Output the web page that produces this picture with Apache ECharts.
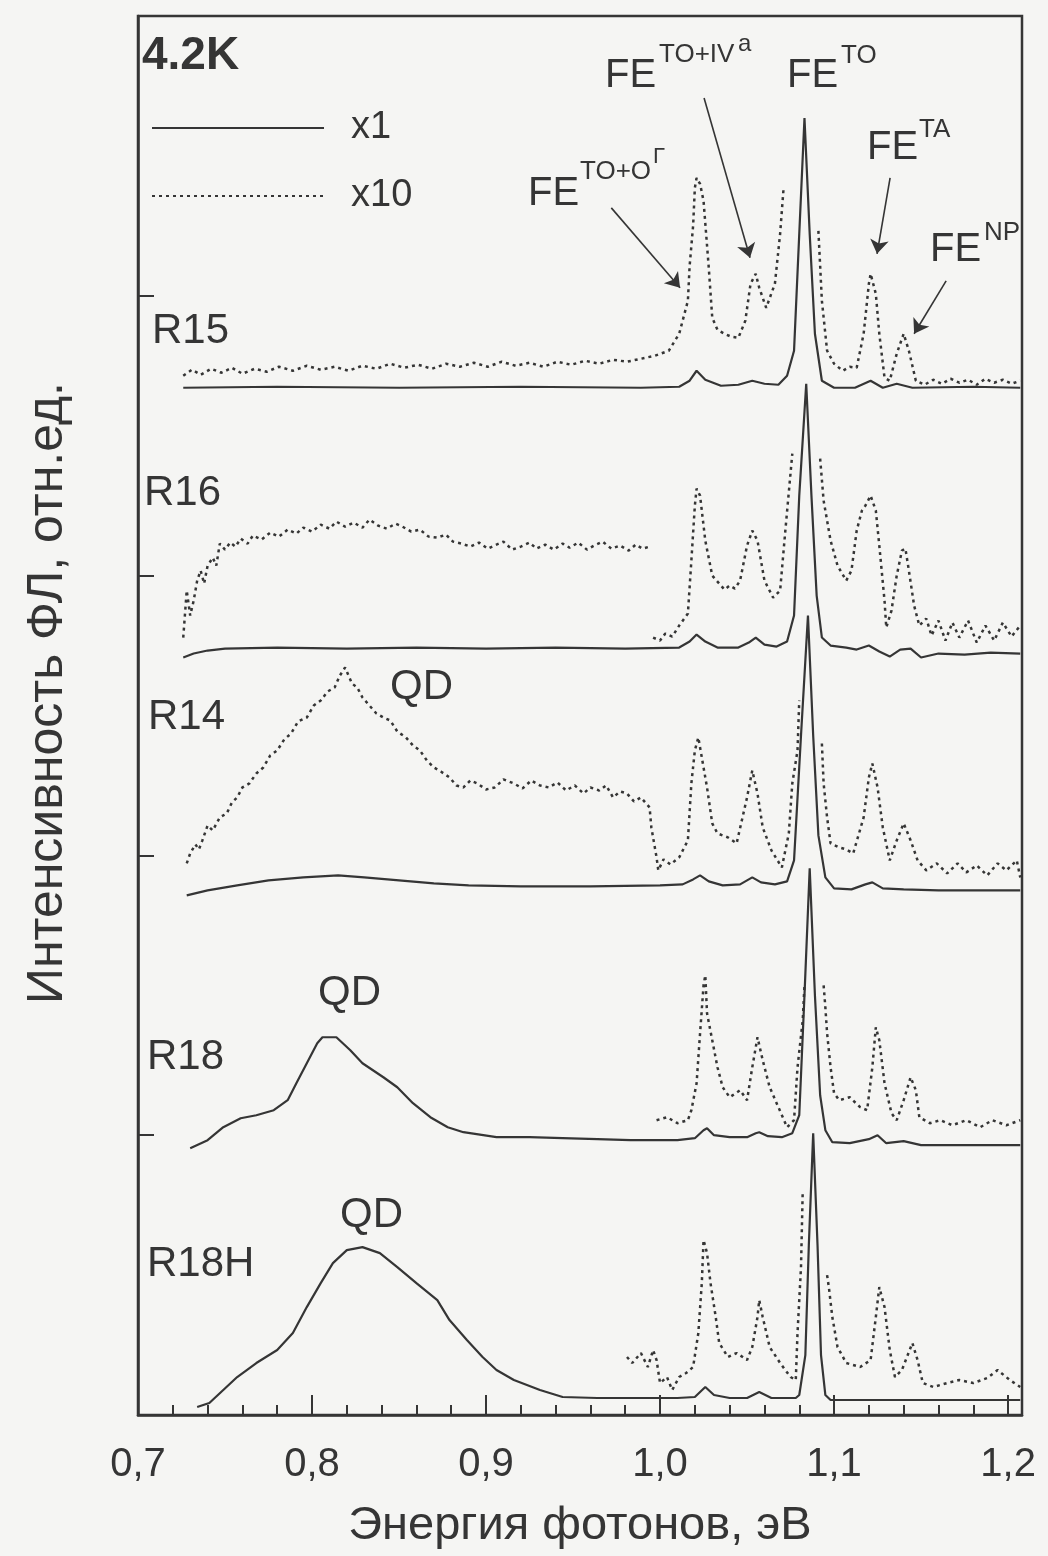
<!DOCTYPE html>
<html>
<head>
<meta charset="utf-8">
<script src="https://cdn.jsdelivr.net/npm/echarts/dist/echarts.min.js"></script>
<style>
  html, body { margin: 0; padding: 0; background: #f5f5f3; }
  #chart { width: 1048px; height: 1556px; }
</style>
</head>
<body>
<div id="chart"></div>
<script>
// PL spectra at 4.2K, stacked; x = photon energy (eV), y = intensity incl. vertical offset (arb. units)

const r15Solid = [[0.726,1028],[0.780,1029],[0.850,1028],[0.920,1029],[0.989,1028],[1.011,1029],[1.017,1035],[1.021,1045],[1.026,1036],[1.035,1030],[1.045,1031],[1.053,1035],[1.060,1032],[1.068,1031],[1.073,1040],[1.077,1065],[1.080,1182],[1.083,1298],[1.086,1182],[1.089,1082],[1.093,1035],[1.100,1028],[1.112,1028],[1.121,1035],[1.128,1028],[1.136,1032],[1.145,1028],[1.180,1029],[1.207,1028]];
const r15DashL = [[0.726,1040],[0.731,1046],[0.736,1041],[0.742,1047],[0.748,1043],[0.754,1048],[0.760,1042],[0.767,1047],[0.774,1044],[0.781,1049],[0.789,1045],[0.797,1050],[0.805,1046],[0.813,1049],[0.821,1045],[0.829,1050],[0.837,1047],[0.845,1052],[0.853,1048],[0.861,1051],[0.869,1047],[0.877,1052],[0.885,1049],[0.893,1053],[0.901,1049],[0.909,1054],[0.917,1050],[0.925,1053],[0.933,1049],[0.941,1054],[0.949,1051],[0.957,1055],[0.965,1052],[0.973,1056],[0.981,1054],[0.989,1057],[0.997,1060],[1.005,1065],[1.011,1082],[1.016,1115],[1.017,1150],[1.019,1190],[1.020,1228],[1.021,1238],[1.023,1232],[1.025,1215],[1.028,1148],[1.030,1098],[1.033,1086],[1.037,1082],[1.041,1079],[1.045,1078],[1.049,1095],[1.052,1132],[1.055,1142],[1.057,1128],[1.061,1108],[1.066,1132],[1.069,1182],[1.071,1228]];
const r15DashR = [[1.091,1185],[1.093,1115],[1.096,1065],[1.100,1052],[1.105,1045],[1.109,1049],[1.113,1048],[1.117,1082],[1.120,1132],[1.121,1142],[1.124,1122],[1.126,1082],[1.129,1038],[1.132,1035],[1.136,1062],[1.140,1082],[1.143,1065],[1.147,1035],[1.152,1031],[1.157,1036],[1.162,1032],[1.167,1037],[1.172,1033],[1.177,1036],[1.182,1031],[1.187,1037],[1.192,1033],[1.197,1036],[1.202,1032],[1.207,1035]];

const r16Solid = [[0.726,758],[0.732,762],[0.740,765],[0.750,767],[0.780,768],[0.820,767],[0.860,768],[0.900,767],[0.940,768],[0.980,767],[1.011,768],[1.017,774],[1.021,781],[1.026,774],[1.033,768],[1.045,768],[1.051,773],[1.055,778],[1.060,771],[1.067,769],[1.073,774],[1.077,800],[1.080,920],[1.084,1032],[1.087,920],[1.090,820],[1.093,778],[1.098,770],[1.107,768],[1.113,766],[1.120,770],[1.126,764],[1.132,759],[1.138,766],[1.144,767],[1.150,758],[1.160,762],[1.175,761],[1.190,763],[1.207,762]];
const r16DashQ = [[0.726,778],[0.728,825],[0.730,800],[0.732,815],[0.734,835],[0.736,845],[0.738,832],[0.740,850],[0.743,858],[0.745,850],[0.747,872],[0.750,866],[0.753,873],[0.756,869],[0.759,877],[0.763,872],[0.766,880],[0.771,876],[0.776,883],[0.781,879],[0.786,886],[0.791,882],[0.795,888],[0.800,884],[0.805,891],[0.810,887],[0.814,894],[0.819,889],[0.824,893],[0.829,888],[0.833,896],[0.838,890],[0.843,887],[0.848,892],[0.852,889],[0.857,884],[0.862,886],[0.867,879],[0.872,878],[0.877,881],[0.881,874],[0.886,872],[0.891,869],[0.896,873],[0.901,867],[0.906,871],[0.910,874],[0.915,866],[0.920,869],[0.925,873],[0.929,867],[0.934,871],[0.939,866],[0.944,872],[0.948,868],[0.953,873],[0.958,866],[0.962,870],[0.967,874],[0.972,867],[0.977,870],[0.982,865],[0.986,871],[0.990,867],[0.994,869]];
const r16DashL = [[0.996,778],[1.000,775],[1.003,782],[1.007,779],[1.011,790],[1.016,802],[1.018,855],[1.020,910],[1.021,927],[1.023,920],[1.026,875],[1.030,840],[1.034,832],[1.037,826],[1.040,830],[1.043,827],[1.046,835],[1.050,870],[1.053,885],[1.056,875],[1.060,835],[1.065,818],[1.069,825],[1.072,885],[1.076,962]];
const r16DashR = [[1.092,957],[1.094,915],[1.098,875],[1.102,850],[1.107,835],[1.110,845],[1.113,885],[1.116,905],[1.118,910],[1.121,920],[1.124,905],[1.126,870],[1.129,815],[1.130,788],[1.133,805],[1.136,840],[1.139,865],[1.141,867],[1.143,845],[1.146,810],[1.149,790],[1.153,797],[1.156,780],[1.160,795],[1.164,775],[1.168,793],[1.172,778],[1.177,795],[1.182,773],[1.187,790],[1.192,775],[1.197,793],[1.202,779],[1.207,790]];

const r14Solid = [[0.728,520],[0.740,525],[0.757,530],[0.775,535],[0.795,538],[0.815,540],[0.830,538],[0.850,535],[0.870,532],[0.890,530],[0.920,529],[0.960,529],[1.000,530],[1.013,531],[1.019,536],[1.023,540],[1.028,534],[1.036,530],[1.046,531],[1.053,538],[1.058,533],[1.066,531],[1.073,534],[1.077,555],[1.081,680],[1.085,800],[1.088,680],[1.091,580],[1.095,538],[1.100,527],[1.110,526],[1.118,531],[1.122,533],[1.128,527],[1.140,526],[1.160,525],[1.190,525],[1.207,525]];
const r14DashL = [[0.728,552],[0.730,562],[0.733,571],[0.735,566],[0.737,575],[0.740,590],[0.743,585],[0.747,598],[0.751,602],[0.754,613],[0.757,618],[0.760,628],[0.764,632],[0.768,642],[0.772,648],[0.776,660],[0.780,665],[0.784,676],[0.788,682],[0.792,694],[0.797,698],[0.801,710],[0.805,715],[0.809,724],[0.813,728],[0.816,740],[0.819,748],[0.823,732],[0.826,728],[0.829,718],[0.833,710],[0.837,702],[0.841,698],[0.845,695],[0.849,684],[0.854,678],[0.858,670],[0.862,665],[0.866,655],[0.870,648],[0.874,644],[0.879,638],[0.883,630],[0.887,628],[0.891,635],[0.895,632],[0.900,626],[0.905,628],[0.910,636],[0.916,632],[0.921,627],[0.926,635],[0.931,630],[0.936,628],[0.941,633],[0.946,625],[0.951,630],[0.956,622],[0.960,628],[0.965,625],[0.969,630],[0.973,618],[0.977,624],[0.981,622],[0.985,614],[0.989,618],[0.992,612],[0.994,608],[0.995,588],[0.998,558],[0.999,545],[1.002,556],[1.006,551],[1.011,558],[1.016,575],[1.018,632],[1.020,665],[1.022,678],[1.024,658],[1.027,628],[1.030,592],[1.033,582],[1.039,578],[1.044,572],[1.050,618],[1.053,645],[1.056,622],[1.059,588],[1.064,565],[1.070,548],[1.074,582],[1.076,632],[1.079,665],[1.080,715]];
const r14DashR = [[1.093,672],[1.094,632],[1.096,598],[1.098,572],[1.103,568],[1.107,566],[1.111,562],[1.117,598],[1.120,638],[1.122,652],[1.125,628],[1.128,588],[1.132,555],[1.136,575],[1.140,592],[1.144,575],[1.148,555],[1.153,545],[1.159,552],[1.165,542],[1.171,552],[1.176,543],[1.182,550],[1.188,540],[1.194,552],[1.199,545],[1.205,555],[1.207,538]];

const r18Solid = [[0.730,267],[0.740,275],[0.749,288],[0.759,297],[0.768,300],[0.778,305],[0.786,315],[0.791,332],[0.797,352],[0.803,372],[0.806,378],[0.814,378],[0.822,365],[0.829,352],[0.841,338],[0.849,328],[0.858,312],[0.868,298],[0.878,288],[0.887,283],[0.906,278],[0.925,278],[0.944,277],[0.964,276],[0.983,275],[1.010,275],[1.020,277],[1.025,285],[1.027,287],[1.031,280],[1.040,278],[1.050,278],[1.055,282],[1.057,283],[1.062,279],[1.070,278],[1.076,282],[1.080,300],[1.083,420],[1.086,547],[1.089,420],[1.092,320],[1.095,285],[1.099,273],[1.109,272],[1.120,276],[1.125,280],[1.130,272],[1.140,274],[1.150,270],[1.170,270],[1.207,270]];
const r18DashL = [[0.998,295],[1.004,298],[1.010,292],[1.016,295],[1.018,305],[1.021,332],[1.023,382],[1.025,430],[1.026,440],[1.027,402],[1.030,375],[1.033,348],[1.036,328],[1.040,318],[1.046,325],[1.050,315],[1.053,348],[1.056,378],[1.059,355],[1.063,328],[1.068,308],[1.073,288],[1.077,295],[1.079,348],[1.082,395],[1.083,430]];
const r18DashR = [[1.094,430],[1.095,408],[1.096,382],[1.098,348],[1.100,322],[1.103,315],[1.109,318],[1.115,308],[1.119,305],[1.122,348],[1.124,388],[1.126,375],[1.129,332],[1.133,302],[1.136,295],[1.140,315],[1.144,338],[1.147,325],[1.149,298],[1.155,292],[1.161,295],[1.168,290],[1.176,295],[1.184,288],[1.191,295],[1.199,290],[1.207,295]];

const r18hSolid = [[0.734,8],[0.741,12],[0.749,25],[0.757,38],[0.768,52],[0.780,65],[0.789,82],[0.797,108],[0.805,132],[0.812,152],[0.820,165],[0.829,168],[0.839,162],[0.849,148],[0.860,132],[0.872,115],[0.879,95],[0.889,75],[0.898,58],[0.906,45],[0.916,35],[0.931,25],[0.944,18],[0.964,17],[0.983,17],[1.010,17],[1.020,18],[1.026,28],[1.031,20],[1.040,17],[1.050,17],[1.057,23],[1.064,17],[1.078,17],[1.080,20],[1.0835,60],[1.0855,170],[1.088,282],[1.0905,170],[1.0925,60],[1.095,20],[1.098,15],[1.110,15],[1.150,15],[1.207,15]];
const r18hDashL = [[0.981,58],[0.984,52],[0.989,62],[0.993,48],[0.996,65],[0.998,55],[1.000,32],[1.004,38],[1.007,25],[1.011,38],[1.015,42],[1.019,48],[1.022,82],[1.024,132],[1.025,175],[1.027,162],[1.029,132],[1.032,98],[1.034,72],[1.039,58],[1.044,62],[1.050,55],[1.053,68],[1.056,98],[1.057,115],[1.059,98],[1.063,68],[1.069,52],[1.075,38],[1.078,35],[1.079,82],[1.081,148],[1.082,225]];
const r18hDashR = [[1.096,140],[1.097,128],[1.099,98],[1.102,68],[1.107,52],[1.115,48],[1.121,55],[1.124,98],[1.126,128],[1.129,108],[1.132,65],[1.135,38],[1.139,45],[1.145,72],[1.148,55],[1.151,32],[1.157,28],[1.165,32],[1.172,35],[1.180,32],[1.188,37],[1.194,45],[1.201,35],[1.207,28]];

// arrows pointing to the FE lines: [x0, y0, x1, y1]
const feArrows = [
  [0.972, 1208, 1.0115, 1128],
  [1.0253, 1318, 1.0517, 1158],
  [1.1322, 1238, 1.1247, 1162],
  [1.1644, 1135, 1.146, 1082]
];

const xTicks = { min: 0.7, max: 1.208, step: 0.1 };
const yTicks = { min: 0, max: 1400, step: 280 };

const INK = '#353535';
const FONT = '"Liberation Sans", Arial, sans-serif';

const solidSeries = (data) => ({
  type: 'line', name: 'x1', data: data, symbol: 'none', silent: true,
  lineStyle: { color: INK, width: 2.2 }, itemStyle: { color: INK }
});
const dashSeries = (data) => ({
  type: 'line', name: 'x10', data: data, symbol: 'none', silent: true,
  lineStyle: { color: INK, width: 2.5, type: [3, 4] }, itemStyle: { color: INK }
});

const series = [
  solidSeries(r15Solid), dashSeries(r15DashL), dashSeries(r15DashR),
  solidSeries(r16Solid), dashSeries(r16DashQ), dashSeries(r16DashL), dashSeries(r16DashR),
  solidSeries(r14Solid), dashSeries(r14DashL), dashSeries(r14DashR),
  solidSeries(r18Solid), dashSeries(r18DashL), dashSeries(r18DashR),
  solidSeries(r18hSolid), dashSeries(r18hDashL), dashSeries(r18hDashR)
];

series[0].markLine = {
  silent: true, animation: false,
  symbol: ['none', 'arrow'], symbolSize: 14,
  lineStyle: { color: INK, width: 1.6, type: 'solid' },
  label: { show: false },
  data: feArrows.map(a => [{ coord: [a[0], a[1]] }, { coord: [a[2], a[3]] }])
};

// text labels (pixel placement)
const txt = (text, x, y, size, weight) => ({
  type: 'text', x: x, y: y, silent: true,
  style: { text: text, fontSize: size, fontWeight: weight || 'normal', fontFamily: FONT, fill: INK, align: 'left', verticalAlign: 'middle' }
});

const graphics = [
  txt('4.2K', 142, 56, 46, 'bold'),
  txt('R15', 152, 331, 42), txt('R16', 144, 493, 42), txt('R14', 148, 717, 42),
  txt('R18', 147, 1057, 42), txt('R18H', 147, 1264, 42),
  txt('QD', 390, 687, 42), txt('QD', 318, 993, 42), txt('QD', 340, 1215, 42),
  txt('FE', 605, 76, 40), txt('TO+IV', 659, 55, 26), txt('a', 738, 44, 24),
  txt('FE', 787, 76, 40), txt('TO', 841, 56, 26),
  txt('FE', 528, 194, 40), txt('TO+O', 580, 172, 26), txt('Γ', 653, 157, 22),
  txt('FE', 867, 148, 40), txt('TA', 919, 130, 26),
  txt('FE', 930, 250, 40), txt('NP', 984, 233, 26),
  {
    type: 'text', x: 48, y: 693, rotation: Math.PI / 2, silent: true,
    style: { text: 'Интенсивность ФЛ, отн.ед.', fontSize: 50, fontFamily: FONT, fill: INK, align: 'center', verticalAlign: 'middle' }
  }
];

const chart = echarts.init(document.getElementById('chart'));
chart.setOption({
  backgroundColor: '#f5f5f3',
  animation: false,
  grid: {
    left: 138, right: 26, top: 16, bottom: 141, containLabel: false, outerBoundsMode: 'none',
    show: true, borderColor: INK, borderWidth: 2.5
  },
  legend: {
    data: ['x1', 'x10'], orient: 'vertical', left: 146, top: 104,
    itemWidth: 172, itemHeight: 14, itemGap: 30, selectedMode: false,
    itemStyle: { opacity: 0 },
    textStyle: { fontSize: 38, color: INK, fontFamily: FONT, padding: [0, 0, 0, 22] }
  },
  xAxis: {
    type: 'value', min: xTicks.min, max: xTicks.max, interval: xTicks.step,
    name: 'Энергия фотонов, эВ', nameLocation: 'middle', nameGap: 88,
    nameTextStyle: { fontSize: 47, color: INK, fontFamily: FONT },
    axisLine: { show: true, lineStyle: { color: INK, width: 2.5 } },
    axisTick: { show: true, inside: true, length: 20, lineStyle: { color: INK, width: 2 } },
    minorTick: { show: true, splitNumber: 5, length: 10, lineStyle: { color: INK, width: 2 } },
    axisLabel: {
      fontSize: 40, color: INK, fontFamily: FONT, margin: 30, showMaxLabel: false,
      formatter: v => v.toFixed(1).replace('.', ',')
    },
    splitLine: { show: false }
  },
  yAxis: {
    type: 'value', min: yTicks.min, max: yTicks.max, interval: yTicks.step,
    axisLine: { show: true, lineStyle: { color: INK, width: 2.5 } },
    axisTick: { show: true, inside: true, length: 16, lineStyle: { color: INK, width: 2 } },
    axisLabel: { show: false },
    splitLine: { show: false }
  },
  graphic: graphics,
  series: series
});
</script>
</body>
</html>
